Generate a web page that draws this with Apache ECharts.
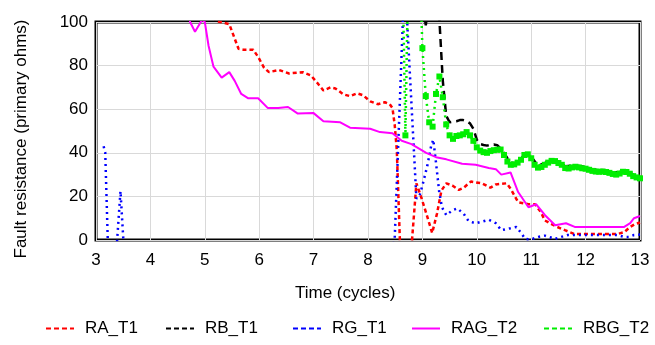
<!DOCTYPE html>
<html>
<head>
    <meta charset="utf-8">
    <script type="text/javascript" src="https://cdn.jsdelivr.net/npm/echarts@6/dist/echarts.min.js"></script>
</head>
<body style="margin: 0">
<div id="container" style="width: 655px; height: 345px"></div>
<script type="text/javascript">
    // values (time in cycles, resistance in primary ohms)
    var raTime = [5.0, 5.1, 5.2, 5.45, 5.62, 5.71, 5.89, 5.98, 6.09, 6.18, 6.36, 6.55, 6.8, 6.95, 7.07, 7.18, 7.31, 7.4, 7.55, 7.67, 7.8, 7.91, 8.04, 8.18, 8.31, 8.4, 8.45, 8.49, 8.53, 8.59, 8.8, 8.89, 8.98, 9.07, 9.18, 9.27, 9.35, 9.44, 9.55, 9.67, 9.76, 9.89, 10.09, 10.25, 10.35, 10.55, 10.62, 10.76, 10.95, 11.07, 11.18, 11.25, 11.44, 11.62, 11.8, 12.22, 12.58, 12.71, 12.82, 12.91, 13.0];
    var raVal = [118, 108, 100.5, 99, 87.7, 87.3, 87.3, 84, 79, 77, 78, 76.4, 77, 75.5, 72, 68.6, 70, 69.5, 66.8, 66, 67.3, 66.4, 63.6, 62.3, 63.2, 62.3, 60.5, 53, 41, -3, -3, 26, 19.5, 12.3, 3.2, 12.3, 22.7, 26, 25, 23, 24, 26.8, 26, 24, 25.5, 26, 23.6, 17.3, 16.4, 16.4, 12.7, 9, 6.4, 4.5, 2.7, 2.7, 2.7, 3.6, 6, 7.3, 8];

    var rbTime = [8.9375, 9.0, 9.0625, 9.125, 9.25, 9.3125, 9.375, 9.4375, 9.5, 9.5625, 9.625, 9.6875, 9.75, 9.8125, 9.875, 9.9375, 10.0, 10.0625, 10.125, 10.1875, 10.25, 10.3125, 10.375, 10.4375, 10.5, 10.5625, 10.625, 10.6875, 10.75, 10.8125, 10.875, 10.9375, 11.0, 11.125, 11.25, 11.375, 11.5, 11.625, 11.75, 11.875, 12.0, 12.125, 12.25, 12.375, 12.5, 12.625, 12.75, 12.875, 13.0];
    var rbVal = [130, 110, 98.5, 112, 130, 101, 73, 57, 54, 54.3, 54.5, 55, 55, 54.5, 53.5, 51, 46, 44, 43.6, 43.3, 43.5, 43.8, 43.5, 42, 40, 37.5, 35.5, 35.2, 35.5, 37, 39.3, 39.5, 38.3, 34, 35.3, 37, 36, 33.8, 34.1, 34, 33.5, 32.5, 32.1, 32, 31.1, 31.2, 31.8, 30, 29];

    var rgTime = [3.14, 3.17, 3.22, 3.38, 3.45, 3.51, 8.45, 8.49, 8.64, 8.67, 8.72, 8.89, 8.95, 9.0, 9.09, 9.16, 9.2, 9.25, 9.31, 9.36, 9.44, 9.55, 9.64, 9.76, 9.85, 9.98, 10.09, 10.22, 10.35, 10.45, 10.62, 10.73, 10.82, 10.89, 11.0, 11.13, 11.25, 11.44, 11.55, 11.67, 12.0, 12.3, 12.58, 12.71, 12.8, 12.89, 13.0];
    var rgVal = [43, 40, -3, -3, 22.4, -3, -3, 0, 100, 112, 100, 19, 20.5, 25, 34, 43, 46, 35.5, 21.8, 15, 11.4, 13.6, 14.5, 12, 8.6, 7.7, 8.4, 9.3, 7.7, 4.5, 5.4, 6, 3, 0.5, 0.3, 1.4, 2, 0.5, 1.4, 2.3, 2.3, 2.3, 2.3, 1.4, 1.4, 2.3, 2.5];

    var ragTime = [4.6, 4.73, 4.82, 4.95, 5.0, 5.07, 5.16, 5.31, 5.45, 5.55, 5.67, 5.8, 5.98, 6.16, 6.35, 6.53, 6.71, 7.0, 7.18, 7.49, 7.67, 8.04, 8.22, 8.45, 8.62, 8.8, 9.07, 9.25, 9.44, 9.73, 9.98, 10.22, 10.35, 10.45, 10.62, 10.76, 10.95, 11.09, 11.25, 11.44, 11.64, 11.8, 12.22, 12.71, 12.82, 12.89, 13.0];
    var ragVal = [115, 100, 95.5, 101, 100, 89, 79.5, 74.5, 77, 73, 67, 65, 65, 60.5, 60.5, 61, 58, 58.2, 54.5, 54, 51.5, 51, 49.5, 49, 45.5, 44, 40, 38, 37, 35, 34.5, 33, 32.5, 30, 31, 22, 15, 16.4, 11.5, 6.8, 7.7, 6, 6, 6, 7.7, 10, 11];

    var rbgTime = [8.625, 8.6875, 8.75, 8.8125, 8.875, 8.9375, 9.0, 9.0625, 9.125, 9.1875, 9.25, 9.3125, 9.375, 9.4375, 9.5, 9.5625, 9.625, 9.6875, 9.75, 9.8125, 9.875, 9.9375, 10.0, 10.0625, 10.125, 10.1875, 10.25, 10.3125, 10.375, 10.4375, 10.5, 10.5625, 10.625, 10.6875, 10.75, 10.8125, 10.875, 10.9375, 11.0, 11.0625, 11.125, 11.1875, 11.25, 11.3125, 11.375, 11.4375, 11.5, 11.5625, 11.625, 11.6875, 11.75, 11.8125, 11.875, 11.9375, 12.0, 12.0625, 12.125, 12.1875, 12.25, 12.3125, 12.375, 12.4375, 12.5, 12.5625, 12.625, 12.6875, 12.75, 12.8125, 12.875, 12.9375, 13.0];
    var rbgVal = [140, 48, 140, 150, 150, 140, 88, 66, 54, 52, 67, 75, 65.5, 53, 48, 46.4, 47.7, 48, 48.5, 49.5, 48, 45.5, 42.5, 41, 40.3, 40, 40.8, 41.2, 41.4, 41.5, 39, 36, 34.5, 34.7, 35.5, 36.8, 39, 39.3, 37.5, 34.5, 33.2, 33.5, 34.5, 35.5, 36.3, 36.2, 35.3, 34.5, 33, 32.8, 33.3, 33.6, 33.3, 32.9, 32.7, 32.2, 31.7, 31.4, 31.3, 31.4, 31.2, 30.8, 30.3, 30, 30.5, 31.3, 31.2, 30.4, 29.3, 28.7, 28.3];

    function pairs(t, v) {
        var out = [];
        for (var i = 0; i < t.length; i++) {
            out.push([t[i], v[i]]);
        }
        return out;
    }

    var font = 'Liberation Sans, Arial, sans-serif';
    var dom = document.getElementById('container');
    var myChart = echarts.init(dom, null, {renderer: 'canvas'});

    // one legend per entry so each can sit where the original has it
    function legendAt(name, left, dashed) {
        var item = {name: name, itemStyle: {opacity: 0}};
        if (dashed) {
            item.lineStyle = {type: [5, 3]};
        }
        return {
            data: [item],
            left: left,
            top: 315,
            itemWidth: 28,
            itemHeight: 12,
            textStyle: {fontFamily: font, fontSize: 17, color: '#000', padding: [0, 0, 0, 6]}
        };
    }

    var option = {
        animation: false,
        backgroundColor: '#fff',
        title: {
            text: 'Time (cycles)',
            left: 290,
            top: 280,
            textStyle: {fontFamily: font, fontSize: 17, fontWeight: 'normal', color: '#000'}
        },
        legend: [
            legendAt('RA_T1', 40, true),
            legendAt('RB_T1', 160, true),
            legendAt('RG_T1', 287, true),
            legendAt('RAG_T2', 406, false),
            legendAt('RBG_T2', 538, true)
        ],
        grid: {
            left: 96,
            right: 15,
            top: 22,
            bottom: 105,
            show: true,
            borderColor: '#000',
            borderWidth: 3
        },
        xAxis: {
            type: 'value',
            min: 3,
            max: 13,
            interval: 1,
            axisLine: {show: false},
            axisTick: {show: false},
            axisLabel: {fontFamily: font, fontSize: 17, color: '#000', margin: 12},
            splitLine: {lineStyle: {color: '#d9d9d9', width: 1}}
        },
        yAxis: {
            type: 'value',
            min: 0,
            max: 100,
            interval: 20,
            name: 'Fault resistance (primary ohms)',
            nameLocation: 'middle',
            nameRotate: 90,
            nameGap: 66,
            nameTextStyle: {fontFamily: font, fontSize: 17, color: '#000', padding: [0, 16, 0, 0]},
            axisLine: {show: false},
            axisTick: {show: false},
            axisLabel: {fontFamily: font, fontSize: 17, color: '#000', margin: 8},
            splitLine: {lineStyle: {color: '#d9d9d9', width: 1}}
        },
        series: [
            {
                name: 'RA_T1',
                type: 'line',
                data: pairs(raTime, raVal),
                symbol: 'none',
                color: '#ff0000',
                lineStyle: {color: '#ff0000', width: 2.5, type: [4, 3]}
            },
            {
                name: 'RB_T1',
                type: 'line',
                data: pairs(rbTime, rbVal),
                symbol: 'none',
                color: '#000000',
                lineStyle: {color: '#000000', width: 2.5, type: [8, 5]}
            },
            {
                name: 'RG_T1',
                type: 'line',
                data: pairs(rgTime, rgVal),
                symbol: 'none',
                color: '#0000ff',
                lineStyle: {color: '#0000ff', width: 2.5, type: [2, 4]}
            },
            {
                name: 'RAG_T2',
                type: 'line',
                data: pairs(ragTime, ragVal),
                symbol: 'none',
                color: '#ff00ff',
                lineStyle: {color: '#ff00ff', width: 2}
            },
            {
                name: 'RBG_T2',
                type: 'line',
                data: pairs(rbgTime, rbgVal),
                symbol: 'rect',
                symbolSize: 6,
                showAllSymbol: true,
                color: '#00ee00',
                itemStyle: {color: '#00ee00', borderWidth: 0},
                lineStyle: {color: '#00ee00', width: 2.5, type: [2, 4]}
            }
        ]
    };

    myChart.setOption(option);
    window.addEventListener('resize', myChart.resize);
</script>
</body>
</html>
